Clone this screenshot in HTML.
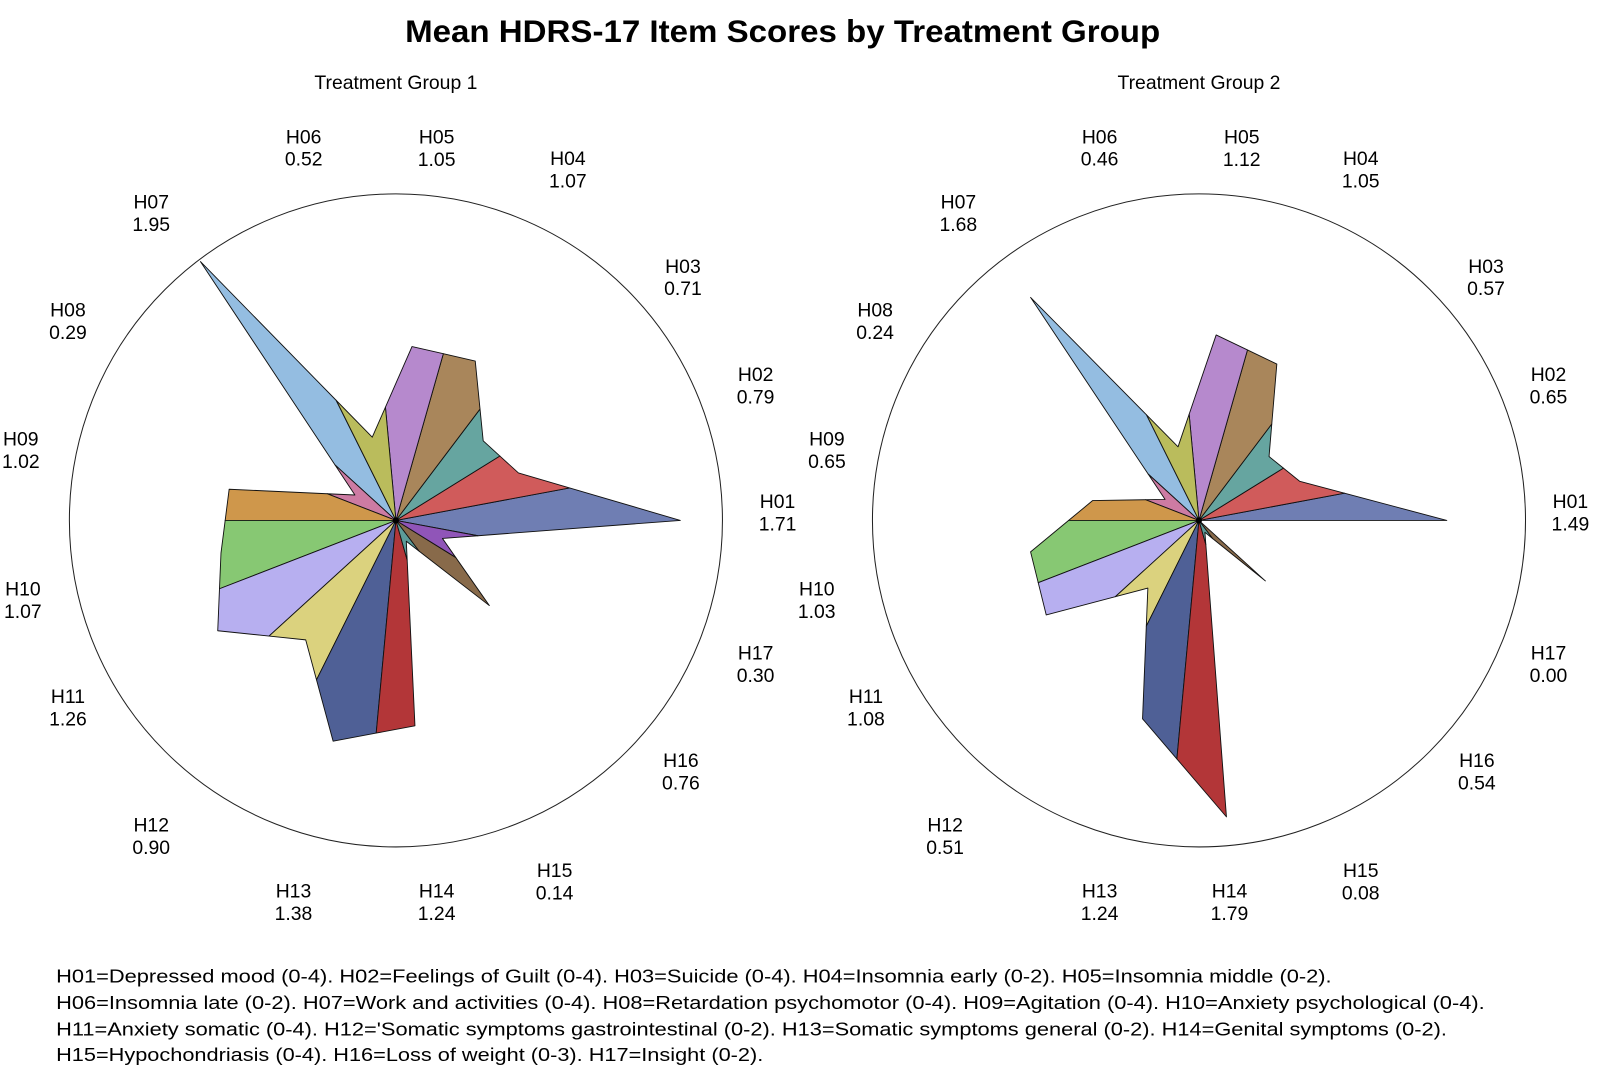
<!DOCTYPE html>
<html><head><meta charset="utf-8"><style>
html,body{margin:0;padding:0;background:#fff;}
svg{display:block;font-family:"Liberation Sans",sans-serif;}
</style></head><body>
<svg id="chart" width="1600" height="1089" viewBox="0 0 1600 1089" xmlns="http://www.w3.org/2000/svg">
<rect width="1600" height="1089" fill="#fff"/>
<g id="root" transform="scale(1.020408)">
<text x="767" y="41" text-anchor="middle" font-size="31" font-weight="bold" textLength="740" lengthAdjust="spacingAndGlyphs">Mean HDRS-17 Item Scores by Treatment Group</text>
<g font-size="18" fill="#000">
<text x="55" y="963" textLength="1250" lengthAdjust="spacingAndGlyphs">H01=Depressed mood (0-4).  H02=Feelings of Guilt (0-4).  H03=Suicide (0-4).  H04=Insomnia early (0-2).  H05=Insomnia middle (0-2).</text>
<text x="55" y="989" textLength="1400" lengthAdjust="spacingAndGlyphs">H06=Insomnia late (0-2).  H07=Work and activities (0-4).  H08=Retardation psychomotor (0-4).  H09=Agitation (0-4).  H10=Anxiety psychological (0-4).</text>
<text x="55" y="1015" textLength="1363" lengthAdjust="spacingAndGlyphs">H11=Anxiety somatic (0-4).  H12='Somatic symptoms gastrointestinal (0-2).  H13=Somatic symptoms general (0-2).  H14=Genital symptoms (0-2).</text>
<text x="55" y="1040" textLength="693" lengthAdjust="spacingAndGlyphs">H15=Hypochondriasis (0-4).  H16=Loss of weight (0-3).  H17=Insight (0-2).</text>
</g>
</g>
</svg>
<script>
const items = ["H01","H02","H03","H04","H05","H06","H07","H08","H09","H10","H11","H12","H13","H14","H15","H16","H17"];
const group1Values = [1.71,0.79,0.71,1.07,1.05,0.52,1.95,0.29,1.02,1.07,1.26,0.90,1.38,1.24,0.14,0.76,0.30];
const group2Values = [1.49,0.65,0.57,1.05,1.12,0.46,1.68,0.24,0.65,1.03,1.08,0.51,1.24,1.79,0.08,0.54,0.00];
const groupTitles = ["Treatment Group 1","Treatment Group 2"];
const sliceColors = ["#6F7EB3","#D05B5B","#66A5A0","#A9865B","#B689CD","#BABC5C","#94BDE1","#CD7BA3","#CF974B","#87C873","#B7AFF0","#DBD27E","#4F6096","#B33638","#5C9C99","#886A4A","#9055B8"];
// label placement nudges (layout styling, not data)
const labelNudgeX = [-4,0,2,0,5,13,-12,0,4,6,0,-12,3,5,-13,0,0];
const labelNudgeY = [-8,4,16,-6,11,-2,0,3,0,8,-16,7,10,-3,15,-9,4];
const labelNudgeX2 = [-10,-10,0,-10,2,-7,4,4,3,-9,-5,-9,3,-10,3,-7,-10];

const NS = "http://www.w3.org/2000/svg";
const root = document.getElementById("root");
const R_CIRCLE = 320, SCALE = 163, LABEL_R = 378;
const step = 2*Math.PI/items.length;
function rScale(v){ return v*SCALE; }
function angle(i){ return i*step; }
function pt(cx,cy,a,r){ return [cx + r*Math.cos(a), cy - r*Math.sin(a)]; }
function bis(r1,r2){ return (r1+r2)===0 ? 0 : 2*r1*r2*Math.cos(step/2)/(r1+r2); }

function drawChart(cx, cy, values, title, gi){
  const g = document.createElementNS(NS,"g");
  
  
  root.appendChild(g);
  const t = document.createElementNS(NS,"text");
  
  
  t.setAttribute("x", cx); t.setAttribute("y", 87);
  t.setAttribute("text-anchor","middle"); t.setAttribute("font-size","19");
  t.textContent = title; g.appendChild(t);
  const c = document.createElementNS(NS,"circle");
  
  
  c.setAttribute("cx",cx); c.setAttribute("cy",cy); c.setAttribute("r",R_CIRCLE);
  c.setAttribute("fill","none"); c.setAttribute("stroke","#222"); c.setAttribute("stroke-width","1");
  g.appendChild(c);
  const n = values.length;
  for(let i=0;i<n;i++){
    const r = rScale(values[i]);
    const rp = rScale(values[(i-1+n)%n]);
    const rn = rScale(values[(i+1)%n]);
    const a = angle(i);
    const p0 = [cx,cy];
    const pPrev = pt(cx,cy,a-step/2,bis(rp,r));
    const pMain = pt(cx,cy,a,r);
    const pNext = pt(cx,cy,a+step/2,bis(r,rn));
    const poly = document.createElementNS(NS,"polygon");
    
    
    poly.setAttribute("points",[p0,pPrev,pMain,pNext].map(p=>p[0].toFixed(2)+","+p[1].toFixed(2)).join(" "));
    poly.setAttribute("fill",sliceColors[i]); poly.setAttribute("stroke","#111");
    poly.setAttribute("stroke-width","0.9"); poly.setAttribute("stroke-linejoin","round");
    g.appendChild(poly);
    const lp = pt(cx,cy,a,LABEL_R);
    const lx = lp[0] + labelNudgeX[i] + (gi===1 ? labelNudgeX2[i] : 0), ly = lp[1] + labelNudgeY[i];
    const lab = document.createElementNS(NS,"text");
    
    
    lab.setAttribute("text-anchor","middle"); lab.setAttribute("font-size","19");
    const s1 = document.createElementNS(NS,"tspan");
    s1.setAttribute("x",lx.toFixed(1)); s1.setAttribute("y",(ly-4).toFixed(1));
    s1.textContent = items[i];
    const s2 = document.createElementNS(NS,"tspan");
    s2.setAttribute("x",lx.toFixed(1)); s2.setAttribute("y",(ly+18).toFixed(1));
    s2.textContent = values[i].toFixed(2);
    lab.appendChild(s1); lab.appendChild(s2); g.appendChild(lab);
  }
  const dot = document.createElementNS(NS,"circle");
  
  
  dot.setAttribute("cx",cx); dot.setAttribute("cy",cy); dot.setAttribute("r",3); dot.setAttribute("fill","#000");
  g.appendChild(dot);
}
drawChart(388, 510, group1Values, groupTitles[0], 0);
drawChart(1175, 510, group2Values, groupTitles[1], 1);
</script>
</body></html>
